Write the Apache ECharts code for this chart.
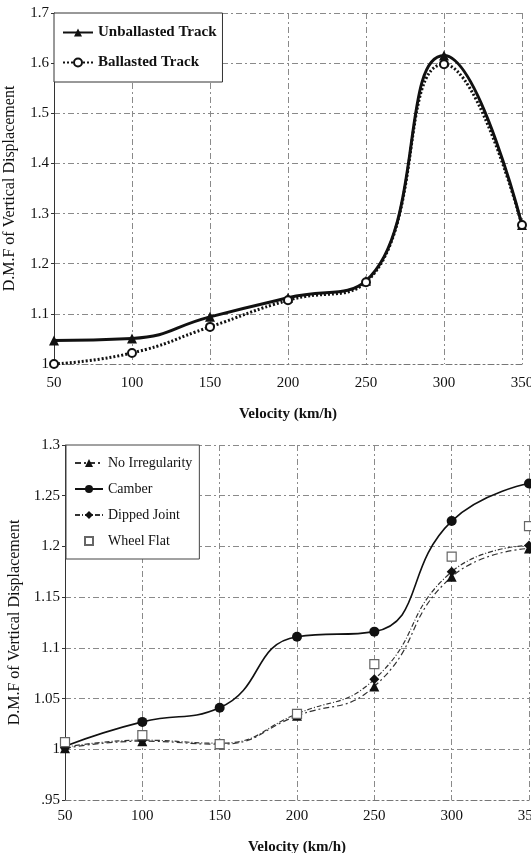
<!DOCTYPE html>
<html>
<head>
<meta charset="utf-8">
<script src="https://cdn.jsdelivr.net/npm/echarts@6/dist/echarts.min.js"></script>
<style>
	html, body { margin: 0; padding: 0; background: #fff; }
	#chart { width: 531px; height: 853px; }
</style>
</head>
<body>
<div id="chart"></div>
<script>
	// velocities shared by both plots (km/h)
	const velocity = [50, 100, 150, 200, 250, 300, 350]

	// upper plot
	const unballasted = [1.047, 1.051, 1.094, 1.132, 1.166, 1.615, 1.277]
	const ballasted = [1.0, 1.022, 1.074, 1.127, 1.163, 1.598, 1.277]

	// lower plot
	const noIrregularity = [1.001, 1.008, 1.005, 1.033, 1.062, 1.170, 1.198]
	const camber = [1.003, 1.027, 1.041, 1.111, 1.116, 1.225, 1.262]
	const dippedJoint = [1.002, 1.009, 1.006, 1.035, 1.069, 1.175, 1.201]
	const wheelFlat = [1.007, 1.014, 1.005, 1.035, 1.084, 1.190, 1.220]

	const xTicks = [50, 100, 150, 200, 250, 300, 350]
	const yTicksTop = [1, 1.1, 1.2, 1.3, 1.4, 1.5, 1.6, 1.7]
	const yTicksBottom = [0.95, 1, 1.05, 1.1, 1.15, 1.2, 1.25, 1.3]

	const font = '"Liberation Serif", "Times New Roman", serif'
	const dashDot = [6, 3, 2, 3]

	const pairs = ys => velocity.map((v, i) => [v, ys[i]])
	const fmtY = v => String(+v.toFixed(2)).replace(/^0\./, '.')

	const chart = echarts.init(document.getElementById('chart'))

	function xAxisFor(gridIndex, gap, margin) {
		return {
			type: 'value',
			gridIndex: gridIndex,
			min: xTicks[0],
			max: xTicks[xTicks.length - 1],
			interval: 50,
			name: 'Velocity (km/h)',
			nameLocation: 'middle',
			nameGap: gap,
			nameTextStyle: { fontFamily: font, fontSize: 15, fontWeight: 'bold', color: '#111' },
			axisLine: { lineStyle: { color: '#777', width: 1, type: dashDot } },
			axisTick: { show: false },
			axisLabel: { fontFamily: font, fontSize: 15, color: '#111', margin: margin },
			splitLine: { show: true, lineStyle: { color: '#8a8a8a', width: 1, type: dashDot } }
		}
	}

	function yAxisFor(gridIndex, ticks, gap) {
		return {
			type: 'value',
			gridIndex: gridIndex,
			min: ticks[0],
			max: ticks[ticks.length - 1],
			interval: +(ticks[1] - ticks[0]).toFixed(2),
			name: 'D.M.F of Vertical Displacement',
			nameLocation: 'middle',
			nameRotate: 90,
			nameGap: gap,
			nameTextStyle: { fontFamily: font, fontSize: 16, color: '#111' },
			axisLine: { show: true, lineStyle: { color: '#333', width: 1 } },
			axisTick: { show: true, length: 3, lineStyle: { color: '#333' } },
			axisLabel: { fontFamily: font, fontSize: 15, color: '#111', margin: 5, formatter: fmtY },
			splitLine: { show: true, lineStyle: { color: '#8a8a8a', width: 1, type: dashDot } }
		}
	}

	chart.setOption({
		backgroundColor: '#fff',
		animation: false,
		grid: [
			{ left: 54, right: 9, top: 13, bottom: 489, containLabel: false, outerBoundsMode: 'none' },
			{ left: 65, right: 2, top: 445, bottom: 53, containLabel: false, outerBoundsMode: 'none' }
		],
		xAxis: [xAxisFor(0, 43, 12), xAxisFor(1, 40, 9)],
		yAxis: [yAxisFor(0, yTicksTop, 36), yAxisFor(1, yTicksBottom, 42)],
		legend: [
			{
				data: ['Unballasted Track', 'Ballasted Track'],
				orient: 'vertical',
				left: 54,
				top: 13,
				itemWidth: 30,
				itemHeight: 10,
				itemGap: 15,
				padding: [12, 6, 12, 8],
				borderColor: '#333',
				borderWidth: 1,
				backgroundColor: '#fff',
				textStyle: { fontFamily: font, fontSize: 15, color: '#111', fontWeight: 'bold' }
			},
			{
				data: ['No Irregularity', 'Camber', 'Dipped Joint', 'Wheel Flat'],
				orient: 'vertical',
				left: 66,
				top: 445,
				itemWidth: 28,
				itemHeight: 10,
				itemGap: 12,
				padding: [11, 7, 11, 8],
				borderColor: '#444',
				borderWidth: 1,
				backgroundColor: '#fff',
				textStyle: { fontFamily: font, fontSize: 14, color: '#111' }
			}
		],
		series: [
			{
				name: 'Unballasted Track',
				type: 'line',
				xAxisIndex: 0,
				yAxisIndex: 0,
				smooth: 0.5,
				data: pairs(unballasted),
				symbol: 'triangle',
				symbolSize: 10,
				itemStyle: { color: '#111' },
				lineStyle: { color: '#111', width: 3 },
				z: 3
			},
			{
				name: 'Ballasted Track',
				type: 'line',
				xAxisIndex: 0,
				yAxisIndex: 0,
				smooth: 0.5,
				data: pairs(ballasted),
				symbol: 'emptyCircle',
				symbolSize: 8,
				itemStyle: { color: '#111', borderColor: '#111', borderWidth: 2.5 },
				lineStyle: { color: '#111', width: 3, type: [2, 2] },
				z: 4
			},
			{
				name: 'No Irregularity',
				type: 'line',
				xAxisIndex: 1,
				yAxisIndex: 1,
				smooth: 0.5,
				data: pairs(noIrregularity),
				symbol: 'triangle',
				symbolSize: 10,
				itemStyle: { color: '#111' },
				lineStyle: { color: '#333', width: 1.2, type: dashDot }
			},
			{
				name: 'Camber',
				type: 'line',
				xAxisIndex: 1,
				yAxisIndex: 1,
				smooth: 0.5,
				data: pairs(camber),
				symbol: 'circle',
				symbolSize: 10,
				itemStyle: { color: '#111' },
				lineStyle: { color: '#111', width: 1.6 }
			},
			{
				name: 'Dipped Joint',
				type: 'line',
				xAxisIndex: 1,
				yAxisIndex: 1,
				smooth: 0.5,
				data: pairs(dippedJoint),
				symbol: 'diamond',
				symbolSize: 10,
				itemStyle: { color: '#111' },
				lineStyle: { color: '#333', width: 1.2, type: [5, 2, 1, 2] }
			},
			{
				name: 'Wheel Flat',
				type: 'line',
				xAxisIndex: 1,
				yAxisIndex: 1,
				data: pairs(wheelFlat),
				symbol: 'rect',
				symbolSize: 9,
				itemStyle: { color: '#fff', borderColor: '#666', borderWidth: 1.2 },
				lineStyle: { width: 0, opacity: 0 },
				z: 5
			}
		]
	})
</script>
</body>
</html>
